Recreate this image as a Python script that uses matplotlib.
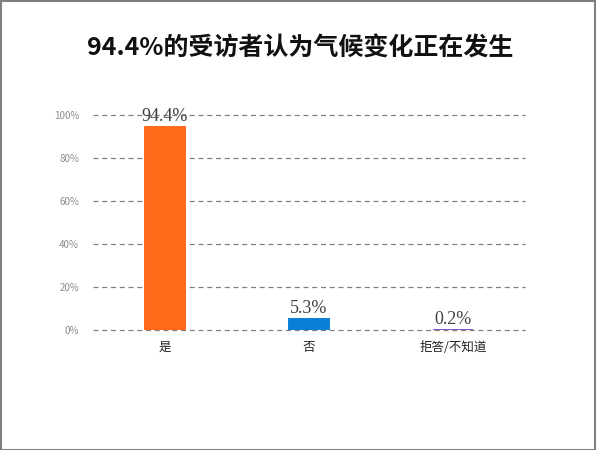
import matplotlib.pyplot as plt
from matplotlib.patches import Rectangle

plt.rcParams['font.family'] = ['Noto Sans CJK SC', 'DejaVu Sans']

# ---------------------- Data ----------------------

categories = ['是', '否', '拒答/不知道']
values = [94.4, 5.3, 0.2]
colors = ['#FF6A1A', '#0A7FD8', '#8B4FC0']
yticks = [0, 20, 40, 60, 80, 100]
title = '94.4%的受访者认为气候变化正在发生'

# ---------------------- Plot ----------------------

fig = plt.figure(figsize=(6, 4.5), dpi=100)
ax = fig.add_axes([0.155, 0.2667, 0.72, 0.4777])

x = list(range(len(categories)))
# thin edge keeps the 0.2% bar visible as a line
ax.bar(x, values, width=0.28, color=colors, edgecolor=colors,
       linewidth=1.4, zorder=3)

for xi, v in zip(x, values):
    ax.text(xi, v + 0.8, f'{v}%', ha='center', va='bottom',
            fontsize=13, color='#404040', family='Liberation Serif', zorder=4)

ax.set_xlim(-0.5, 2.5)
ax.set_ylim(0, 100)
ax.set_yticks(yticks)
ax.set_yticklabels([f'{t}%' for t in yticks], fontsize=7, color='#8c8c8c')
ax.set_xticks(x)
ax.set_xticklabels(categories, fontsize=9, color='#222222')
ax.tick_params(length=0, pad=8)
ax.tick_params(axis='y', pad=10)

ax.grid(axis='y', linestyle=(0, (4, 3)), color='#808080', linewidth=0.9, zorder=0)
ax.set_axisbelow(True)
for s in ax.spines.values():
    s.set_visible(False)
for gl in ax.get_ygridlines():
    gl.set_clip_on(False)

fig.text(0.5, 0.893, title, ha='center', va='center', fontsize=18,
         fontweight='bold', color='#111111')

# gray border around the image
fig.patches.append(Rectangle((0.001, 0.001), 0.99, 0.997, transform=fig.transFigure,
                             fill=False, edgecolor='#808080', linewidth=1.5))

fig.savefig('out.png', dpi=100)
